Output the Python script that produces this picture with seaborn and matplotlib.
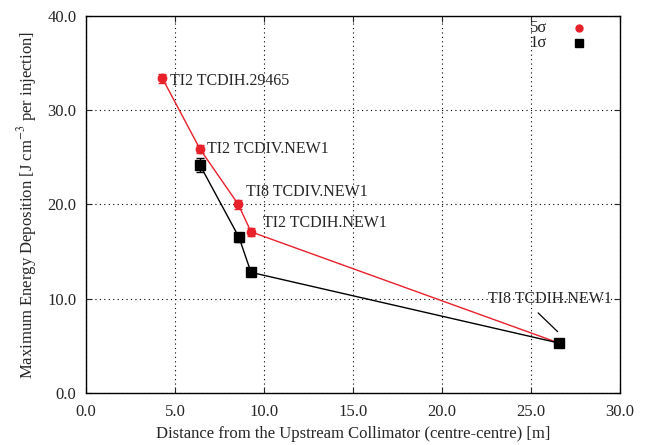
import matplotlib
matplotlib.use("Agg")
import matplotlib.pyplot as plt
import seaborn as sns
import pandas as pd
from matplotlib.ticker import FormatStrFormatter, MultipleLocator

# Data
red_x = [4.29, 6.40, 8.56, 9.27, 26.57]
red_y = [33.4, 25.9, 20.0, 17.1, 5.3]
red_err = [0.5, 0.4, 0.5, 0.4, 0.15]
black_x = [6.40, 8.60, 9.27, 26.57]
black_y = [24.2, 16.5, 12.8, 5.3]
black_err = [0.7, 0.5, 0.2, 0.15]
labels = ["TI2 TCDIH.29465", "TI2 TCDIV.NEW1", "TI8 TCDIV.NEW1", "TI2 TCDIH.NEW1", "TI8 TCDIH.NEW1"]
label_x = [4.7, 6.8, 9.0, 9.95, 22.6]
label_y = [33.1, 25.9, 21.3, 18.0, 9.95]
series_names = ["5σ", "1σ"]

RED = "#e8202a"

sns.set_style("ticks")
plt.rcParams['font.family'] = ['Liberation Serif', 'DejaVu Serif']
plt.rcParams['mathtext.fontset'] = 'stix'

fig = plt.figure(figsize=(6.45, 4.45), dpi=100)
ax = fig.add_axes([0.1333, 0.1169, 0.8279, 0.8471])

df_r = pd.DataFrame({"x": red_x, "y": red_y})
df_b = pd.DataFrame({"x": black_x, "y": black_y})

sns.lineplot(data=df_r, x="x", y="y", ax=ax, color=RED, lw=1.0, sort=False, zorder=3)
sns.lineplot(data=df_b, x="x", y="y", ax=ax, color="black", lw=1.0, sort=False, zorder=3)
ax.errorbar(red_x, red_y, yerr=red_err, fmt='o', color=RED, ms=6, capsize=3, elinewidth=1.0, zorder=4)
ax.errorbar(black_x, black_y, yerr=black_err, fmt='s', color="black", ms=6.5, capsize=3, elinewidth=1.0, zorder=5)

for t, x, y in zip(labels, label_x, label_y):
    ax.text(x, y, t, fontsize=11.5, va='center', ha='left')
ax.plot([25.4, 26.5], [8.5, 6.5], color='black', lw=0.9)

ax.set_xlim(0, 30)
ax.set_ylim(0, 40)
ax.xaxis.set_major_locator(MultipleLocator(5))
ax.yaxis.set_major_locator(MultipleLocator(10))
ax.xaxis.set_major_formatter(FormatStrFormatter('%.1f'))
ax.yaxis.set_major_formatter(FormatStrFormatter('%.1f'))
ax.tick_params(direction='in', top=True, right=True, labelsize=12, length=4, width=0.8)
ax.tick_params(axis='x', pad=8)
ax.tick_params(axis='y', pad=7)
ax.grid(True, linestyle=(0, (1, 3)), color='black', lw=0.8)
for s in ax.spines.values():
    s.set_linewidth(1.0)
    s.set_color('black')

ax.set_xlabel("Distance from the Upstream Collimator (centre-centre) [m]", fontsize=12, labelpad=4)
ax.set_ylabel(r"Maximum Energy Deposition [J cm$^{-3}$ per injection]", fontsize=12, labelpad=6)

# Legend (gnuplot-like)
ax.text(0.831, 0.968, series_names[0], transform=ax.transAxes, fontsize=12, ha='left', va='center')
ax.text(0.831, 0.928, series_names[1], transform=ax.transAxes, fontsize=12, ha='left', va='center')
ax.plot([0.923], [0.968], 'o', color=RED, ms=5, transform=ax.transAxes, clip_on=False)
ax.plot([0.923], [0.928], 's', color='black', ms=5.5, transform=ax.transAxes, clip_on=False)

fig.savefig("out.png", dpi=100)
